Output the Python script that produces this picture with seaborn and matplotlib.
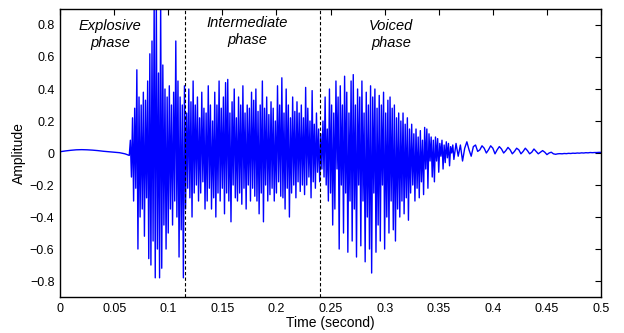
import numpy as np
import pandas as pd
import matplotlib
matplotlib.use("Agg")
import matplotlib.pyplot as plt
import seaborn as sns

# ---- data -------------------------------------------------------------
# segment 1: silence before burst (start 0 s, step 5 ms)
pre_start, pre_step = 0.0, 0.005
pre_vals = [0.008, 0.013, 0.017, 0.020, 0.021, 0.020, 0.018, 0.015,
            0.011, 0.008, 0.005, 0.002, -0.005]

# segment 2: burst / intermediate / voiced (start 64 ms, step 1 ms)
dense_start, dense_step = 0.064, 0.001
dense_vals = [
    -0.015,
    0.08, -0.15, 0.22, -0.30, 0.28, -0.22, 0.52, -0.60, 0.35, -0.40,
    0.30, -0.35, 0.38, -0.52, 0.33, -0.28, 0.45, -0.66, 0.62, -0.70,
    0.70, -0.55, 0.95, -0.78, 0.95, -0.60, 0.50, -0.78, 0.95, -0.72,
    0.55, -0.45, 0.40, -0.60, 0.35, -0.50, 0.42, -0.35, 0.30, -0.45,
    0.38, -0.30, 0.70, -0.40, 0.45, -0.65, 0.35, -0.48, 0.30, -0.78,
    0.42, -0.35, 0.25, -0.22, 0.40, -0.28, 0.32, -0.40, 0.45, -0.25,
    0.30, -0.20, 0.35, -0.30, 0.22, -0.25, 0.38, -0.18, 0.28, -0.35,
    0.25, -0.30, 0.42, -0.22, 0.30, -0.35, 0.20, -0.28, 0.38, -0.40,
    0.30, -0.25, 0.45, -0.30, 0.28, -0.22, 0.35, -0.38, 0.44, -0.25,
    0.46, -0.30, 0.25, -0.43, 0.32, -0.20, 0.40, -0.28, 0.22, -0.30,
    0.35, -0.25, 0.30, -0.32, 0.42, -0.22, 0.25, -0.35, 0.30, -0.20,
    0.28, -0.30, 0.38, -0.22, 0.33, -0.27, 0.40, -0.30, 0.26, -0.38,
    0.30, -0.25, 0.45, -0.43, 0.28, -0.20, 0.35, -0.30, 0.24, -0.26,
    0.32, -0.22, 0.28, -0.30, 0.20, -0.25, 0.42, -0.18, 0.30, -0.27,
    0.47, -0.28, 0.25, -0.35, 0.40, -0.22, 0.30, -0.40, 0.22, -0.25,
    0.35, -0.20, 0.26, -0.28, 0.32, -0.18, 0.25, -0.24, 0.30, -0.20,
    0.22, -0.26, 0.41, -0.20, 0.28, -0.15, 0.20, -0.28, 0.39, -0.18,
    0.18, -0.22, 0.25, -0.12, 0.15, -0.18, 0.12, -0.10, 0.20, -0.15,
    0.35, -0.20, 0.15, -0.30, 0.40, -0.25, 0.30, -0.45, 0.25, -0.35,
    0.45, -0.10, 0.35, -0.60, 0.42, -0.20, 0.30, -0.50, 0.48, -0.25,
    0.38, -0.62, 0.25, -0.30, 0.45, -0.55, 0.49, -0.35, 0.30, -0.65,
    0.40, -0.20, 0.35, -0.58, 0.45, -0.30, 0.25, -0.68, 0.38, -0.40,
    0.30, -0.60, 0.42, -0.75, 0.35, -0.25, 0.40, -0.62, 0.28, -0.45,
    0.36, -0.55, 0.30, -0.20, 0.38, -0.60, 0.25, -0.40, 0.33, -0.50,
    0.35, -0.30, 0.28, -0.48, 0.30, -0.55, 0.22, -0.35, 0.25, -0.40,
    0.20, -0.30, 0.25, -0.38, 0.18, -0.28, 0.22, -0.42, 0.15, -0.25,
    0.18, -0.20, 0.12, -0.30, 0.15, -0.22, 0.10, -0.28, 0.14, -0.18,
    0.08, -0.26, 0.16, -0.10, 0.15, -0.22, 0.12, -0.05, 0.10, -0.15,
    0.08, -0.18, 0.10, -0.05, 0.09, -0.12, 0.06, -0.02, 0.08, -0.10,
    0.05, -0.06, 0.07, -0.03, 0.06, -0.08, 0.04, 0.00, 0.05, -0.04,
]

# segment 3: decaying tail (start 366 ms, step 2 ms)
tail_start, tail_step = 0.366, 0.002
tail_vals = [
    0.06, -0.02, 0.05, -0.05, 0.03, 0.07, 0.02, -0.02, 0.04, 0.05,
    0.01, 0.02, 0.045, 0.03, 0.00, 0.02, 0.045, 0.03, -0.005, 0.02,
    0.04, 0.025, 0.00, 0.015, 0.035, 0.02, -0.005, 0.01, 0.03, 0.02,
    -0.005, 0.01, 0.03, 0.015, -0.005, 0.005, 0.025, 0.01, -0.005, 0.005,
    0.015, 0.005, -0.01, 0.00, 0.005, -0.005, -0.008, -0.005, -0.004, -0.005,
    -0.003, -0.004, -0.002, -0.003, -0.001, -0.002, 0.000, -0.001, 0.001, 0.000,
    0.002, 0.001, 0.003, 0.002, 0.003, 0.003, 0.004, 0.004,
]

phase_bounds = [0.1155, 0.240]
phase_labels = ["Explosive\nphase", "Intermediate\nphase", "Voiced\nphase"]
phase_label_x = [0.046, 0.173, 0.306]
phase_label_y = [0.74, 0.76, 0.74]

x_ticks = [0, 0.05, 0.1, 0.15, 0.2, 0.25, 0.3, 0.35, 0.4, 0.45, 0.5]
x_tick_labels = ["0", "0.05", "0.1", "0.15", "0.2", "0.25", "0.3",
                 "0.35", "0.4", "0.45", "0.5"]
y_ticks = [-0.8, -0.6, -0.4, -0.2, 0, 0.2, 0.4, 0.6, 0.8]
y_tick_labels = ["\u22120.8", "\u22120.6", "\u22120.4", "\u22120.2", "0",
                 "0.2", "0.4", "0.6", "0.8"]

# ---- build table --------------------------------------------------------
def seg(start, step, vals):
    return start + step * np.arange(len(vals)), np.asarray(vals, float)

parts = [seg(pre_start, pre_step, pre_vals),
         seg(dense_start, dense_step, dense_vals),
         seg(tail_start, tail_step, tail_vals)]
t = np.concatenate([p[0] for p in parts])
a = np.concatenate([p[1] for p in parts])
df = pd.DataFrame({"time": t, "amp": a})

# ---- plot ---------------------------------------------------------------
sns.set_style("white")
plt.rcParams["font.family"] = ["Liberation Sans", "DejaVu Sans"]
plt.rcParams["text.color"] = "black"
plt.rcParams["axes.labelcolor"] = "black"

fig = plt.figure(figsize=(6.24, 3.33), dpi=100)
ax = fig.add_axes([0.0962, 0.108, 0.867, 0.865])

sns.lineplot(data=df, x="time", y="amp", ax=ax, color="#0000FF",
             linewidth=1.0, sort=False, estimator=None)

for b in phase_bounds:
    ax.axvline(b, color="black", linestyle="--", linewidth=0.8,
               dashes=(3, 2))

for lab, lx, ly in zip(phase_labels, phase_label_x, phase_label_y):
    ax.text(lx, ly, lab, ha="center", va="center", style="italic",
            fontsize=10.5, linespacing=1.3, color="black")

ax.set_xlim(0, 0.5)
ax.set_ylim(-0.9, 0.9)
ax.set_xticks(x_ticks)
ax.set_xticklabels(x_tick_labels)
ax.set_yticks(y_ticks)
ax.set_yticklabels(y_tick_labels)
ax.tick_params(direction="in", length=4, width=0.8, labelsize=9,
               top=True, right=True, colors="black", labelcolor="black",
               pad=4)
for s in ax.spines.values():
    s.set_visible(True)
    s.set_color("black")
    s.set_linewidth(1.0)
ax.set_xlabel("Time (second)", fontsize=10, labelpad=1, color="black")
ax.set_ylabel("Amplitude", fontsize=10, labelpad=3, color="black")

fig.savefig("out.png", dpi=100)
